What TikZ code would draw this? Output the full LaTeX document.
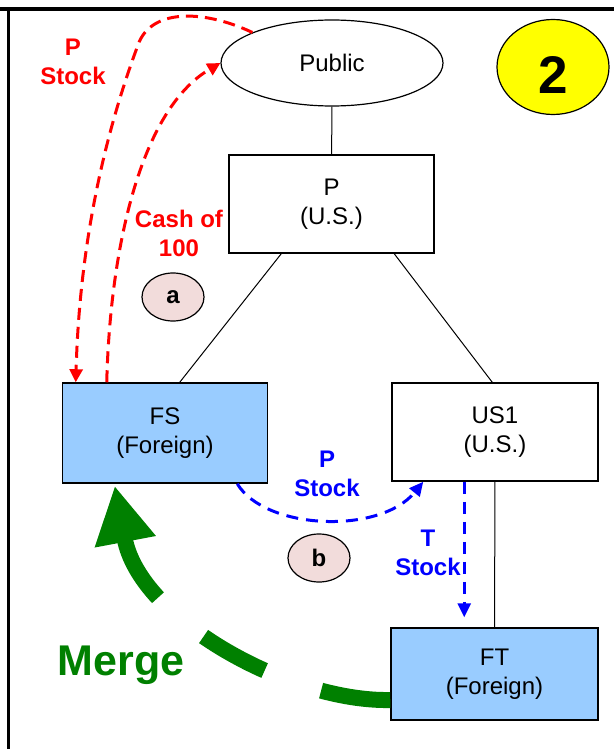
\documentclass[tikz,border=0pt]{standalone}
\usepackage{fontspec}
\setmainfont{Liberation Sans}
\usetikzlibrary{
  shapes.geometric,
  positioning,
  calc,
  arrows.meta}
\definecolor{foreigncolor}{RGB}{153,204,255}
\definecolor{stepcolor}{RGB}{242,220,219}
\definecolor{mergecolor}{RGB}{0,128,0}
\definecolor{badgecolor}{RGB}{255,255,0}
\definecolor{cashcolor}{RGB}{255,0,0}
\definecolor{swapcolor}{RGB}{0,0,255}
\tikzset{
  %% usbox : a U.S. company
  usbox/.style={
    rectangle,
    draw=black,
    line width=1.5pt,
    minimum width=205pt,
    minimum height=98pt,
    font=\fontsize{24}{29}\selectfont,
    align=center
  },
  %% forbox : a foreign company
  forbox/.style={
    usbox,
    fill=foreigncolor
  },
  %% owner : the shareholders
  owner/.style={
    ellipse,
    draw=black,
    line width=1.2pt,
    inner sep=0pt,
    minimum width=222pt,
    minimum height=86pt,
    font=\fontsize{24}{29}\selectfont
  },
  %% badge : the number of the slide
  badge/.style={
    ellipse,
    draw=black,
    line width=1.2pt,
    fill=badgecolor,
    inner sep=0pt,
    minimum width=112pt,
    minimum height=95pt,
    text height=54pt,
    text depth=0pt,
    font=\fontsize{53}{60}\selectfont\bfseries
  },
  %% stepmark : the step of the deal
  stepmark/.style={
    ellipse,
    draw=black,
    line width=1.2pt,
    fill=stepcolor,
    inner sep=0pt,
    minimum width=62pt,
    minimum height=48pt,
    font=\fontsize{24}{29}\selectfont\bfseries
  },
  %% labels on the transfers
  redlabel/.style={cashcolor, align=center, font=\fontsize{24}{29}\selectfont\bfseries},
  bluelabel/.style={swapcolor, align=center, font=\fontsize{24}{29}\selectfont\bfseries},
  mergelabel/.style={mergecolor, font=\fontsize{43}{50}\selectfont\bfseries},
  %% link : ownership line
  link/.style={black, line width=1pt},
  %% transfers
  cash_arrow/.style={cashcolor, line width=3pt, dash pattern=on 12pt off 7pt,
    -{Triangle[length=13pt, width=13pt]}},
  swap_arrow/.style={swapcolor, line width=3pt, dash pattern=on 12pt off 8pt,
    -{Triangle[length=14pt, width=13pt]}},
  merge_arrow/.style={mergecolor, line width=16pt, dash pattern=on 70pt off 60pt,
    -{Triangle[length=57pt, width=58pt]}}
}

\begin{document}
\begin{tikzpicture}
  [x=1pt,
  y=-1pt,
  align=center]
  \useasboundingbox (0,0) rectangle (614,749);

  %% Frame
  \draw [line width=4pt] (0,9) -- (614,9);
  \draw [line width=3pt] (8,9) -- (8,749);

  %% Companies
  \node (public) [owner] at (332,63) {Public};
  \node (badge) [badge] at (553,67) {2};

  \node (p) [usbox] at (331.5,204) {%
    P\\(U.S.)
  };

  \node (fs) [forbox, minimum height=100pt] at (165,433) {%
    FS\\(Foreign)
  };

  \node (us1) [usbox, minimum width=206pt] at (495,432) {%
    US1\\(U.S.)
  };

  \node (ft) [forbox, minimum width=207pt, minimum height=92pt] at (494.5,674) {%
    FT\\(Foreign)
  };

  %% Ownership
  \draw [link] (public) -- (p);
  \draw [link] ($(p.south west)+(53,0)$) -- ($(fs.north west)+(118,0)$);
  \draw [link] ($(p.south west)+(166,0)$) -- ($(us1.north west)+(101,0)$);
  \draw [link] (us1) -- (ft);

  %% Step a
  \draw [cash_arrow] (public.159) .. controls (200,8) and (150,10) .. (138,45)
    .. controls (110,120) and (80,230) .. ($(fs.north west)+(14,0)$);
  \draw [cash_arrow] ($(fs.north west)+(45,0)$) .. controls (110,250) and (140,110) .. (public.west);
  \node (pstock) [redlabel] at (73,62) {P\\Stock};
  \node (cash) [redlabel] at (179,233) {Cash of\\100};
  \node (stepa) [stepmark] at (173,297) {a};

  %% Step b
  \draw [swap_arrow] ($(fs.south east)+(-31,0)$) .. controls (265,530) and (380,535) ..
    ($(us1.south west)+(32,0)$);
  \draw [swap_arrow] ($(us1.south west)+(73,0)$) -- ($(ft.north west)+(74,-10)$);
  \node (pswap) [bluelabel] at (327,474) {P\\Stock};
  \node (tswap) [bluelabel] at (428,553) {T\\Stock};
  \node (stepb) [stepmark] at (319,558) {b};

  %% Merge
  \draw [merge_arrow] ($(ft.west)+(0,26)$) .. controls (290,702) and (140,620) ..
    ($(fs.south west)+(53,2)$);
  \node (merge) [mergelabel] at (121,665) {Merge};

\end{tikzpicture}
\end{document}
